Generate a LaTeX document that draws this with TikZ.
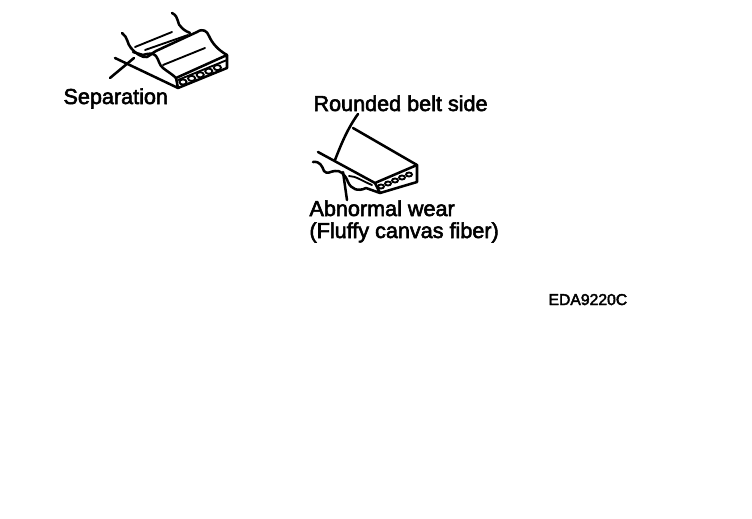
\documentclass[tikz,border=0pt]{standalone}
\usepackage{fontspec}
\setmainfont[AutoFakeBold=2.6]{Liberation Sans}
\tikzset{every picture/.style={line width=0.75pt}}
\tikzset{
  beltline/.style={line width=1.9pt,line join=round,line cap=round},
  thinline/.style={line width=1.4pt,line cap=round},
  biglabel/.style={anchor=base west,inner sep=0pt,font=\fontsize{16.2pt}{18pt}\selectfont\bfseries},
  codelabel/.style={anchor=base west,inner sep=0pt,font=\fontsize{11.8pt}{14pt}\selectfont\bfseries}
}
\begin{document}
\begin{tikzpicture}[x=0.75pt,y=0.75pt,yscale=-1,xscale=1]
\useasboundingbox (0,0) rectangle (752,518);

% Text Node
\node [biglabel] (separation) at (63,104) {Separation};
% Text Node
\node [biglabel] (rounded) at (313,111) {Rounded belt side};
% Text Node
\node [biglabel] (abnormal) at (309,216) {Abnormal wear};
% Text Node
\node [biglabel] (fluffy) at (309,238) {(Fluffy canvas fiber)};
% Text Node
\node [codelabel] (code) at (548,305) {EDA9220C};

% Leader ends
\coordinate (sepfoot) at (110,78);
\coordinate (sephead) at (134,58);
\coordinate (roundfoot) at (358,114);
\coordinate (roundhead) at (335,160);
\coordinate (wearhead) at (343,172);
\coordinate (wearfoot) at (347,200);

% Upper belt outline
\draw [beltline] (172,13) .. controls (180,17) and (176,24) .. (182,28) .. controls (185,31) and (188,32) .. (190,33);
\draw [beltline] (122,33) .. controls (128,37) and (127,44) .. (131,48) .. controls (135,53) and (142,58) .. (147,57) .. controls (150,56) and (152,53) .. (156,51) -- (197,32) .. controls (203,28) and (207,31) .. (209,36) .. controls (212,43) and (218,50) .. (227,55);
\draw [beltline] (133,52) -- (143,55) .. controls (150,53) and (153,53) .. (156,56) .. controls (159,60) and (159,65) .. (163,68) .. controls (168,72) and (172,74) .. (176,78);
\draw [beltline] (115,58) -- (178,88) -- (227,68) -- (227,55) -- (176,78) -- (178,88);
% Upper belt ribs
\draw [thinline] (135,47) -- (172,32);
\draw [thinline] (145,50) -- (188,35);
\draw [thinline] (163,65) -- (205,48);
% Upper belt end
\foreach \i in {0,...,4}
  \draw [thinline] (183+\i*8.6,82-\i*3.6) ellipse (3.6 and 2.6);
\draw [thinline] (178,80) -- (227,60);

% Upper leader
\draw [beltline] (sepfoot) -- (sephead);

% Lower belt outline
\draw [beltline] (353,128) -- (417,165) -- (417,182) -- (380,193);
\draw [beltline] (318,152) -- (375,183) -- (417,165);
\draw [beltline] (313,162) .. controls (320,161) and (322,166) .. (324,171) .. controls (327,175) and (331,171) .. (335,171) .. controls (340,170) and (345,174) .. (348,182) .. controls (351,189) and (358,192) .. (366,188) -- (380,193) -- (375,183);
\draw [thinline] (349,176) .. controls (356,176) and (362,181) .. (372,185);
% Lower belt end
\foreach \i in {0,...,4}
  \draw [thinline] (381+\i*7,186.5-\i*3) ellipse (3 and 2);

% Lower leaders
\draw [beltline] (roundfoot) .. controls (348,128) and (342,142) .. (roundhead);
\draw [beltline] (wearhead) -- (wearfoot);

\end{tikzpicture}
\end{document}
